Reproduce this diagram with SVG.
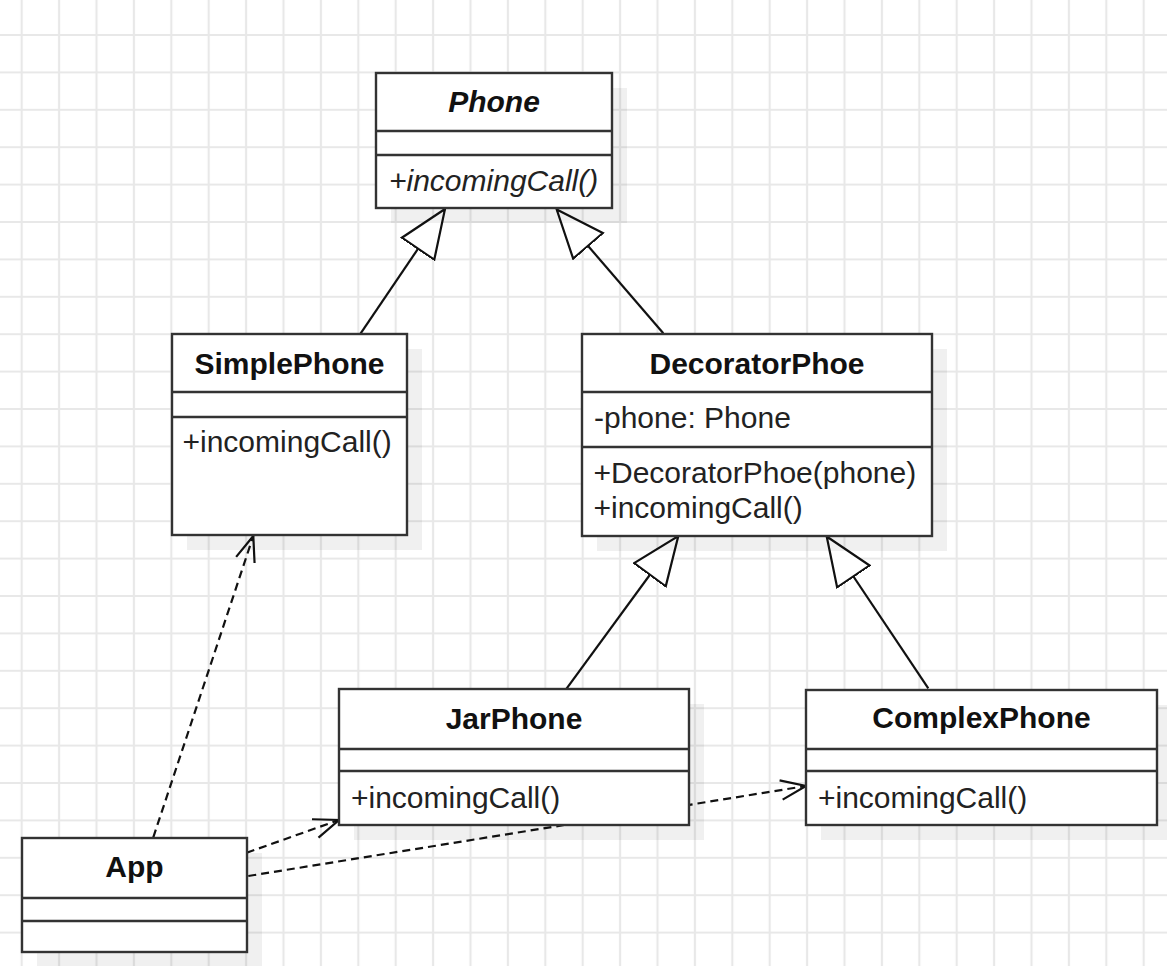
<svg xmlns="http://www.w3.org/2000/svg" width="1167" height="966" viewBox="0 0 1167 966">
<style>
.box{fill:#fff;stroke:#333;stroke-width:2.4}
.sh{fill:#000;fill-opacity:0.06}
.div{stroke:#333;stroke-width:2.4}
.t{font-family:"Liberation Sans",Arial,sans-serif;font-size:30px;fill:#222}
.h{font-weight:bold;text-anchor:middle;fill:#111}
.it{font-style:italic}
.inh{stroke:#111;stroke-width:2.2;fill:none}
.dep{stroke:#111;stroke-width:2.2;fill:none;stroke-dasharray:8 5}
</style>
<defs>
<pattern id="grid" x="3" y="16.3" width="37.4" height="37.4" patternUnits="userSpaceOnUse">
<path d="M18.7 0V37.4M0 18.7H37.4" stroke="#e8e8e8" stroke-width="2.2" fill="none"/>
</pattern>
<marker id="tri" markerUnits="userSpaceOnUse" markerWidth="52" markerHeight="44" refX="49" refY="21" orient="auto">
<path d="M1,1.4 L49,21 L1,40.6 Z" fill="#fff" stroke="#111" stroke-width="2.2" stroke-linejoin="miter"/>
</marker>
<marker id="open" markerUnits="userSpaceOnUse" markerWidth="30" markerHeight="24" refX="26.2" refY="11.2" orient="auto">
<path d="M1,1.5 L26.2,11.2 L1,20.9" fill="none" stroke="#111" stroke-width="2.2"/>
</marker>
</defs>
<rect width="1167" height="966" fill="#fff"/>
<rect width="1167" height="966" fill="url(#grid)"/>
<g id="connectors">
<path class="inh" d="M360,334.3 L445,209" marker-end="url(#tri)"/>
<path class="inh" d="M663.3,333.3 L556.7,209.5" marker-end="url(#tri)"/>
<path class="inh" d="M566,689.3 L678.3,536" marker-end="url(#tri)"/>
<path class="inh" d="M928.3,688.3 L826.7,536.5" marker-end="url(#tri)"/>
<path class="dep" d="M153.3,837.3 L253.3,536" marker-end="url(#open)"/>
<path class="dep" d="M246.7,852.7 L339,820" marker-end="url(#open)"/>
<path class="dep" d="M248.3,876 L806,786" marker-end="url(#open)"/>
</g>
<g id="Phone">
<rect class="sh" x="391" y="88" width="236" height="135"/>
<rect class="box" x="376" y="73" width="236" height="135"/>
<line class="div" x1="376" y1="131" x2="612" y2="131"/>
<line class="div" x1="376" y1="155" x2="612" y2="155"/>
<text class="t h it" x="494" y="112">Phone</text>
<text class="t it" x="389" y="191">+incomingCall()</text>
</g>
<g id="SimplePhone">
<rect class="sh" x="187" y="349" width="235" height="201"/>
<rect class="box" x="172" y="334" width="235" height="201"/>
<line class="div" x1="172" y1="392" x2="407" y2="392"/>
<line class="div" x1="172" y1="417" x2="407" y2="417"/>
<text class="t h" x="289.5" y="374">SimplePhone</text>
<text class="t" x="182.5" y="452">+incomingCall()</text>
</g>
<g id="DecoratorPhoe">
<rect class="sh" x="597" y="349" width="350" height="202"/>
<rect class="box" x="582" y="334" width="350" height="202"/>
<line class="div" x1="582" y1="392" x2="932" y2="392"/>
<line class="div" x1="582" y1="447" x2="932" y2="447"/>
<text class="t h" x="757" y="374">DecoratorPhoe</text>
<text class="t" x="594" y="428">-phone: Phone</text>
<text class="t" x="593.5" y="483">+DecoratorPhoe(phone)</text>
<text class="t" x="593.5" y="518">+incomingCall()</text>
</g>
<g id="JarPhone">
<rect class="sh" x="354" y="704" width="350" height="136"/>
<rect class="box" x="339" y="689" width="350" height="136"/>
<line class="div" x1="339" y1="749" x2="689" y2="749"/>
<line class="div" x1="339" y1="771" x2="689" y2="771"/>
<text class="t h" x="514" y="729">JarPhone</text>
<text class="t" x="351" y="808">+incomingCall()</text>
</g>
<g id="ComplexPhone">
<rect class="sh" x="821" y="705" width="351" height="135"/>
<rect class="box" x="806" y="690" width="351" height="135"/>
<line class="div" x1="806" y1="749" x2="1157" y2="749"/>
<line class="div" x1="806" y1="771" x2="1157" y2="771"/>
<text class="t h" x="981.5" y="728">ComplexPhone</text>
<text class="t" x="818" y="808">+incomingCall()</text>
</g>
<g id="App">
<rect class="sh" x="37" y="853" width="225" height="114"/>
<rect class="box" x="22" y="838" width="225" height="114"/>
<line class="div" x1="22" y1="898" x2="247" y2="898"/>
<line class="div" x1="22" y1="921" x2="247" y2="921"/>
<text class="t h" x="134.5" y="877">App</text>
</g>
</svg>
